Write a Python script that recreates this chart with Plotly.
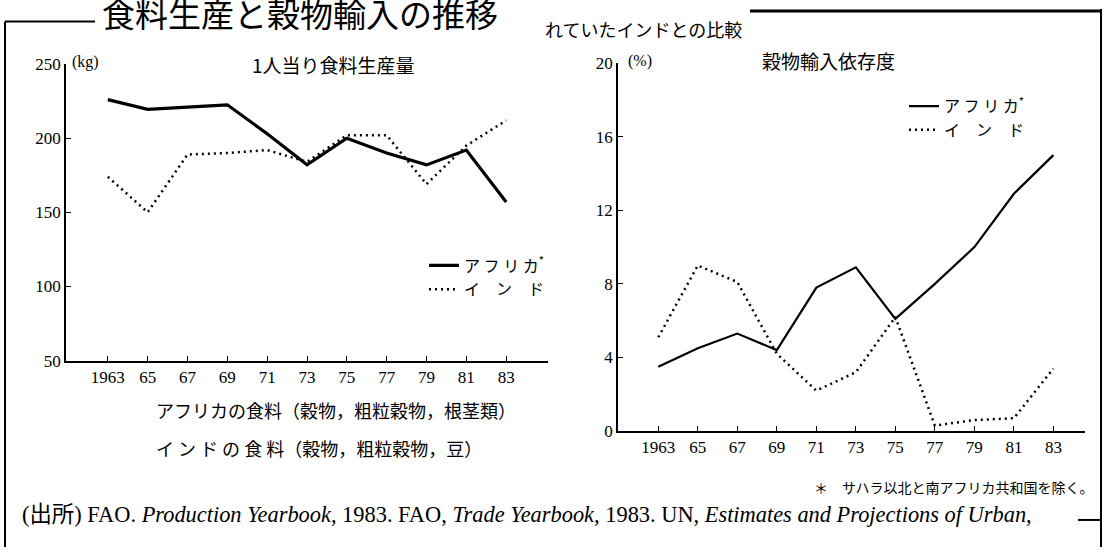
import plotly.graph_objects as go

W, H = 1108, 557

years = [1963, 1965, 1967, 1969, 1971, 1973, 1975, 1977, 1979, 1981, 1983]
tick_text = ["1963", "65", "67", "69", "71", "73", "75", "77", "79", "81", "83"]

# 1人当り食料生産量 (kg)
food_africa = [226, 219.5, 221, 222.5, 203, 182, 200, 190, 182, 192, 157]
food_india = [174, 150, 189, 190, 192, 184, 202, 202, 169, 195, 212]

# 穀物輸入依存度 (%)
imp_africa = [3.5, 4.5, 5.3, 4.4, 7.8, 8.9, 6.1, 8.0, 10.0, 12.9, 15.0]
imp_india = [5.1, 9.0, 8.1, 4.2, 2.2, 3.2, 6.2, 0.3, 0.6, 0.7, 3.4]

SERIF = "Liberation Serif, Noto Sans CJK JP"
JP = "Noto Sans CJK JP"


def px(x):
    return x / W


def py(y):
    return 1 - y / H


fig = go.Figure()

fig.add_trace(go.Scatter(x=years, y=food_africa, mode="lines", name="ア フ リ カ<sup>*</sup>",
                         line=dict(color="black", width=3.2), xaxis="x", yaxis="y", legend="legend"))
fig.add_trace(go.Scatter(x=years, y=food_india, mode="lines", name="イ　ン　ド",
                         line=dict(color="black", width=2.5, dash="2px,4px"), xaxis="x", yaxis="y", legend="legend"))
fig.add_trace(go.Scatter(x=years, y=imp_africa, mode="lines", name="ア フ リ カ<sup>*</sup>",
                         line=dict(color="black", width=2.2), xaxis="x2", yaxis="y2", legend="legend2"))
fig.add_trace(go.Scatter(x=years, y=imp_india, mode="lines", name="イ　ン　ド",
                         line=dict(color="black", width=2.5, dash="2px,4px"), xaxis="x2", yaxis="y2", legend="legend2"))

axis_common = dict(showgrid=False, zeroline=False, showline=True, linecolor="black", linewidth=1.5,
                   ticks="inside", tickcolor="black", ticklen=5, tickwidth=1.2,
                   tickfont=dict(family=SERIF, size=17, color="black"))

fig.update_layout(
    width=W, height=H,
    margin=dict(l=0, r=0, t=0, b=0),
    paper_bgcolor="white", plot_bgcolor="white",
    xaxis=dict(domain=[px(66), px(548)], range=[1960.9, 1985.1], anchor="y",
               tickvals=years, ticktext=tick_text, **axis_common),
    yaxis=dict(domain=[py(364), py(57)], range=[50, 250], anchor="x",
               tickvals=[50, 100, 150, 200, 250], **axis_common),
    xaxis2=dict(domain=[px(618), px(1085)], range=[1960.96, 1984.6], anchor="y2",
                tickvals=years, ticktext=tick_text, **axis_common),
    yaxis2=dict(domain=[py(437), py(56)], range=[0, 20], anchor="x2",
                tickvals=[0, 4, 8, 12, 16, 20], **axis_common),
    legend=dict(x=px(424), y=py(248), xanchor="left", yanchor="top", bgcolor="rgba(0,0,0,0)",
                font=dict(family=JP, size=16, color="black"), tracegroupgap=0, itemwidth=30),
    legend2=dict(x=px(904), y=py(83), xanchor="left", yanchor="top", bgcolor="rgba(0,0,0,0)",
                 font=dict(family=JP, size=16, color="black"), tracegroupgap=0, itemwidth=30),
    showlegend=True,
)

ann = []


def add_text(text, x, y, size, family=JP, xanchor="left", yanchor="middle"):
    ann.append(dict(text=text, x=px(x), y=py(y), xref="paper", yref="paper", showarrow=False,
                    xanchor=xanchor, yanchor=yanchor, font=dict(family=family, size=size, color="black")))


add_text("食料生産と穀物輸入の推移", 100, 4, 33)
add_text("れていたインドとの比較", 543, 21, 18)
add_text("1人当り食料生産量", 333, 57, 19, xanchor="center")
add_text("穀物輸入依存度", 828, 53, 19, xanchor="center")
add_text("(kg)", 70, 55, 16, family=SERIF)
add_text("(%)", 626, 54, 16, family=SERIF)
add_text("アフリカの食料（穀物，粗粒穀物，根茎類）", 154, 415, 18)
add_text("イ ン ド の 食 料（穀物，粗粒穀物，豆）", 154, 455, 18)
add_text("＊　サハラ以北と南アフリカ共和国を除く。", 812, 495, 14)
add_text("(出所) FAO. <i>Production Yearbook</i>, 1983. FAO, <i>Trade Yearbook,</i> 1983. UN, "
         "<i>Estimates and Projections of Urban</i>,", 20, 523, 22.4, family=SERIF)

fig.update_layout(annotations=ann)

shapes = [
    dict(type="line", xref="paper", yref="paper", x0=px(5), y0=py(557), x1=px(5), y1=py(13),
         line=dict(color="black", width=2)),
    dict(type="line", xref="paper", yref="paper", x0=px(5), y0=py(13), x1=px(95), y1=py(13),
         line=dict(color="black", width=2)),
    dict(type="line", xref="paper", yref="paper", x0=px(750), y0=py(2), x1=px(1101), y1=py(2),
         line=dict(color="black", width=3)),
    dict(type="line", xref="paper", yref="paper", x0=px(1101), y0=py(0), x1=px(1101), y1=py(557),
         line=dict(color="black", width=2)),
    dict(type="line", xref="paper", yref="paper", x0=px(1078), y0=py(529), x1=px(1101), y1=py(529),
         line=dict(color="black", width=2)),
]
fig.update_layout(shapes=shapes)

fig.write_html(
    "out.html",
    config={"displayModeBar": False},
    post_script=(
        "document.documentElement.style.margin='0';"
        "document.body.style.margin='0';"
        "document.body.style.overflow='hidden';"
        "var d=document.getElementById('{plot_id}');"
        "d.style.position='fixed';d.style.top='0px';d.style.left='0px';"
    ),
)
